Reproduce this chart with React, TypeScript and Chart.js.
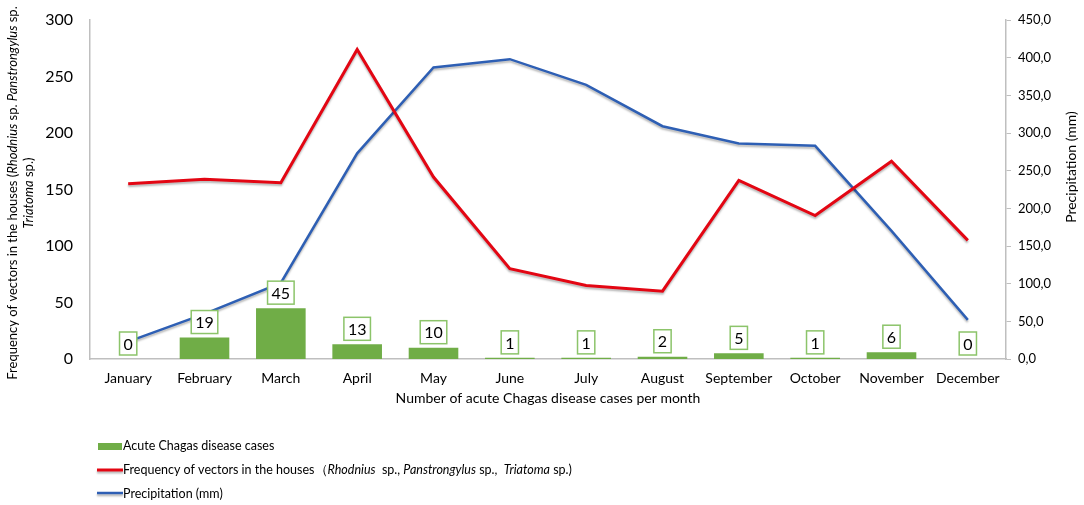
import { useRef, useEffect } from "react"
import { Chart, registerables } from "chart.js"

Chart.register(...registerables)

const months = [
    "January", "February", "March", "April", "May", "June",
    "July", "August", "September", "October", "November", "December",
]
const acuteCases = [0, 19, 45, 13, 10, 1, 1, 2, 5, 1, 6, 0]
const vectorFrequency = [155, 159, 156, 274, 161, 80, 65, 60, 158, 127, 175, 105]
const precipitation = [23, 60, 101, 273, 387, 398, 364, 309, 286, 283, 170, 52]

const GREEN = "#70ad47"
const RED = "#e30613"
const BLUE = "#2e5fb4"
const AXIS = "#bfbfbf"
const FONT = "Lato"

type Part = { text: string; italic?: boolean }

// draws a run of text pieces, some italic, centred on x or from x
function drawRich(ctx: CanvasRenderingContext2D, parts: Part[], x: number, y: number, size: number, align: "left" | "center") {
    const fontOf = (p: Part) => `${p.italic ? "italic " : ""}${size}px ${FONT}`
    let total = 0
    for (const p of parts) {
        ctx.font = fontOf(p)
        total += ctx.measureText(p.text).width
    }
    let cx = align === "center" ? x - total / 2 : x
    ctx.textAlign = "left"
    ctx.textBaseline = "middle"
    for (const p of parts) {
        ctx.font = fontOf(p)
        ctx.fillText(p.text, cx, y)
        cx += ctx.measureText(p.text).width
    }
}

const lineShadow = {
    id: "lineShadow",
    beforeDatasetDraw(chart: any, args: any) {
        if (chart.data.datasets[args.index].type !== "line") return
        const ctx = chart.ctx
        ctx.save()
        ctx.shadowColor = "rgba(0,0,0,0.28)"
        ctx.shadowBlur = 2
        ctx.shadowOffsetY = 2
    },
    afterDatasetDraw(chart: any, args: any) {
        if (chart.data.datasets[args.index].type !== "line") return
        chart.ctx.restore()
    },
}

const barLabels = {
    id: "barLabels",
    afterDatasetsDraw(chart: any) {
        const ctx = chart.ctx as CanvasRenderingContext2D
        const meta = chart.getDatasetMeta(0)
        ctx.save()
        ctx.font = `16px ${FONT}`
        meta.data.forEach((bar: any, i: number) => {
            const text = String(acuteCases[i])
            const w = ctx.measureText(text).width + 8
            const h = 23
            const bottom = bar.y - 4
            ctx.fillStyle = "#fff"
            ctx.fillRect(bar.x - w / 2, bottom - h, w, h)
            ctx.strokeStyle = "#8cc46a"
            ctx.lineWidth = 1.5
            ctx.strokeRect(bar.x - w / 2, bottom - h, w, h)
            ctx.fillStyle = "#000"
            ctx.textAlign = "center"
            ctx.textBaseline = "middle"
            ctx.fillText(text, bar.x, bottom - h / 2 + 1)
        })
        ctx.restore()
    },
}

const titlesAndLegend = {
    id: "titlesAndLegend",
    afterDraw(chart: any) {
        const ctx = chart.ctx as CanvasRenderingContext2D
        ctx.save()
        ctx.fillStyle = "#000"

        // left axis title, two lines
        ctx.save()
        ctx.translate(13, 193)
        ctx.rotate(-Math.PI / 2)
        drawRich(ctx, [
            { text: "Frequency of vectors in the houses (" },
            { text: "Rhodnius", italic: true },
            { text: " sp. " },
            { text: "Panstrongylus", italic: true },
            { text: " sp." },
        ], 0, 0, 13, "center")
        drawRich(ctx, [{ text: "Triatoma", italic: true }, { text: " sp.)" }], 0, 16, 13, "center")
        ctx.restore()

        // right axis title
        ctx.save()
        ctx.translate(1071, 167)
        ctx.rotate(-Math.PI / 2)
        drawRich(ctx, [{ text: "Precipitation (mm)" }], 0, 0, 14, "center")
        ctx.restore()

        // x axis title
        drawRich(ctx, [{ text: "Number of acute Chagas disease cases per month" }], 548, 398, 14, "center")

        // legend
        ctx.fillStyle = GREEN
        ctx.fillRect(98, 443, 24, 7)
        ctx.save()
        ctx.shadowColor = "rgba(0,0,0,0.28)"
        ctx.shadowBlur = 2
        ctx.shadowOffsetY = 2
        ctx.lineWidth = 3
        ctx.strokeStyle = RED
        ctx.beginPath()
        ctx.moveTo(97, 470)
        ctx.lineTo(123, 470)
        ctx.stroke()
        ctx.lineWidth = 2.5
        ctx.strokeStyle = BLUE
        ctx.beginPath()
        ctx.moveTo(97, 493)
        ctx.lineTo(123, 493)
        ctx.stroke()
        ctx.restore()

        ctx.fillStyle = "#000"
        drawRich(ctx, [{ text: "Acute Chagas disease cases" }], 123, 446, 12.5, "left")
        drawRich(ctx, [
            { text: "Frequency of vectors in the houses\uff08" },
            { text: "Rhodnius", italic: true },
            { text: "  sp., " },
            { text: "Panstrongylus", italic: true },
            { text: " sp.,  " },
            { text: "Triatoma", italic: true },
            { text: " sp.)" },
        ], 123, 470, 12.5, "left")
        drawRich(ctx, [{ text: "Precipitation (mm)" }], 123, 494, 12.5, "left")
        ctx.restore()
    },
}

export default function App() {
    const chartRef = useRef<HTMLCanvasElement | null>(null)
    const chartInstance = useRef<Chart | null>(null)

    useEffect(() => {
        if (!chartRef.current) return
        if (chartInstance.current) chartInstance.current.destroy()
        const ctx = chartRef.current.getContext("2d")
        if (!ctx) return

        Chart.defaults.font.family = FONT
        Chart.defaults.color = "#000"

        chartInstance.current = new Chart(ctx, {
            type: "bar",
            data: {
                labels: months,
                datasets: [
                    {
                        type: "bar",
                        label: "Acute Chagas disease cases",
                        data: acuteCases,
                        backgroundColor: GREEN,
                        yAxisID: "y",
                        barPercentage: 0.65,
                        categoryPercentage: 1,
                        order: 3,
                    },
                    {
                        type: "line",
                        label: "Frequency of vectors in the houses",
                        data: vectorFrequency,
                        borderColor: RED,
                        borderWidth: 3,
                        pointRadius: 0,
                        tension: 0,
                        yAxisID: "y",
                        order: 1,
                    },
                    {
                        type: "line",
                        label: "Precipitation (mm)",
                        data: precipitation,
                        borderColor: BLUE,
                        borderWidth: 2.5,
                        pointRadius: 0,
                        tension: 0,
                        yAxisID: "y1",
                        order: 2,
                    },
                ] as any,
            },
            options: {
                responsive: true,
                maintainAspectRatio: false,
                animation: false,
                layout: { padding: { top: 20, left: 0, right: 0, bottom: 0 } },
                plugins: {
                    legend: { display: false },
                    tooltip: { enabled: false },
                },
                scales: {
                    x: {
                        grid: { display: false },
                        border: { display: true, color: AXIS, width: 1.5 },
                        ticks: { font: { size: 14 }, color: "#000", maxRotation: 0 },
                        afterFit: (s: any) => { s.height = 146 },
                    },
                    y: {
                        position: "left",
                        min: 0,
                        max: 300,
                        // invisible tick marks used as the gap between labels and axis
                        grid: { display: false, drawTicks: true, tickLength: 17 },
                        border: { display: true, color: AXIS, width: 1.5 },
                        ticks: { stepSize: 50, font: { size: 16 }, color: "#000", padding: 0 },
                        afterFit: (s: any) => { s.width = 90 },
                    },
                    y1: {
                        position: "right",
                        min: 0,
                        max: 450,
                        grid: { drawOnChartArea: false, color: AXIS, tickLength: 5 },
                        border: { display: true, color: AXIS, width: 1.5 },
                        ticks: {
                            stepSize: 50,
                            font: { size: 13 },
                            color: "#000",
                            padding: 7,
                            callback: (v: any) => Number(v).toFixed(1).replace(".", ","),
                        },
                        afterFit: (s: any) => { s.width = 78 },
                    },
                },
            },
            plugins: [lineShadow, barLabels, titlesAndLegend],
        })

        return () => {
            if (chartInstance.current) {
                chartInstance.current.destroy()
                chartInstance.current = null
            }
        }
    }, [])

    return (
        <div style={{ position: "fixed", left: 0, top: 0, width: 1084, height: 505, background: "#fff" }}>
            <canvas ref={chartRef} />
        </div>
    )
}
